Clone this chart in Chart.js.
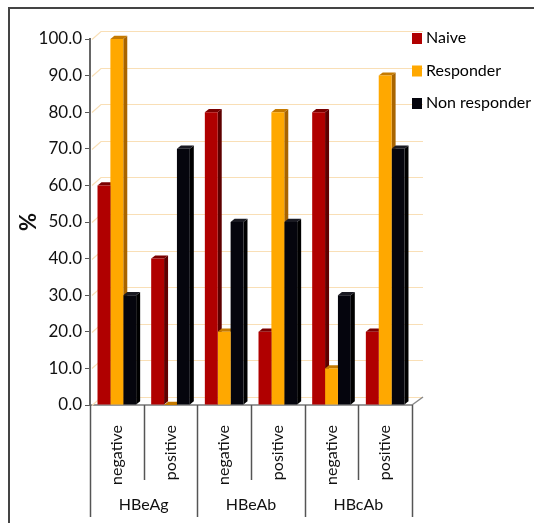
<!DOCTYPE html>
<html>
<head>
<meta charset="utf-8">
<script src="https://cdn.jsdelivr.net/npm/chart.js@4.4.0/dist/chart.umd.min.js"></script>
<style>
  html, body { margin: 0; padding: 0; background: #fff; }
  #wrap { width: 534px; height: 523px; position: relative; }
</style>
</head>
<body>
<div id="wrap"><canvas id="myChart"></canvas></div>
<script>
// marker status per column, and the marker each pair of columns belongs to
const markers = ['negative', 'positive', 'negative', 'positive', 'negative', 'positive'];
const groups = ['HBeAg', 'HBeAb', 'HBcAb'];

const naive = [60, 40, 80, 20, 80, 20];
const responder = [100, 0, 20, 80, 10, 90];
const nonResponder = [30, 70, 50, 50, 30, 70];

const yTickLabels = ['0.0', '10.0', '20.0', '30.0', '40.0', '50.0', '60.0', '70.0', '80.0', '90.0', '100.0'];

const FONT = 'Lato, "Open Sans", sans-serif';
const depth = 4;
const wallX = 11, wallY = 8;

// back-wall gridlines: short diagonal along the side wall, then across
const backWall = {
  id: 'backWall',
  beforeDatasetsDraw(chart) {
    const ctx = chart.ctx;
    const ys = chart.scales.y;
    const { left, right } = chart.chartArea;
    ctx.save();
    ctx.strokeStyle = '#f9dfb6';
    ctx.lineWidth = 1.2;
    ys.ticks.forEach(t => {
      const y = Math.round(ys.getPixelForValue(t.value)) + 0.5;
      ctx.beginPath();
      ctx.moveTo(left + 2, y);
      ctx.lineTo(left + wallX, y - wallY);
      ctx.lineTo(right + wallX, y - wallY);
      ctx.stroke();
    });
    ctx.restore();
  }
};

// side and top faces of the columns, painted before the fronts so the
// next column in a cluster hides what lies behind it
const bars3d = {
  id: 'bars3d',
  beforeDatasetsDraw(chart) {
    const ctx = chart.ctx;
    ctx.save();
    chart.data.datasets.forEach((ds, i) => {
      chart.getDatasetMeta(i).data.forEach(bar => {
        const l = bar.x - bar.width / 2, r = bar.x + bar.width / 2;
        const dy = depth * 0.8;
        ctx.fillStyle = ds.sideColor;
        ctx.beginPath();
        ctx.moveTo(r, bar.y);
        ctx.lineTo(r + depth, bar.y - dy);
        ctx.lineTo(r + depth, bar.base - dy);
        ctx.lineTo(r, bar.base);
        ctx.closePath();
        ctx.fill();
        ctx.fillStyle = ds.topColor;
        ctx.beginPath();
        ctx.moveTo(l, bar.y);
        ctx.lineTo(l + depth, bar.y - dy);
        ctx.lineTo(r + depth, bar.y - dy);
        ctx.lineTo(r, bar.y);
        ctx.closePath();
        ctx.fill();
      });
    });
    ctx.restore();
  }
};

// frame, two-level category axis and legend
const decorations = {
  id: 'decorations',
  afterDraw(chart) {
    const ctx = chart.ctx;
    const xs = chart.scales.x;
    const bottom = chart.chartArea.bottom;
    ctx.save();

    ctx.strokeStyle = '#444';
    ctx.lineWidth = 2;
    ctx.beginPath();
    ctx.moveTo(9, 523);
    ctx.lineTo(9, 8);
    ctx.lineTo(534, 8);
    ctx.stroke();

    // floor edge
    ctx.strokeStyle = '#888';
    ctx.lineWidth = 1.5;
    ctx.beginPath();
    ctx.moveTo(xs.right, bottom);
    ctx.lineTo(xs.right + wallX, bottom - wallY);
    ctx.stroke();

    ctx.strokeStyle = '#555';
    ctx.lineWidth = 1.5;
    for (let i = 0; i <= markers.length; i++) {
      const x = Math.round(xs.getPixelForValue(i - 0.5)) + 0.5;
      const end = i % 2 === 0 ? 517 : 480;
      ctx.beginPath();
      ctx.moveTo(x, bottom);
      ctx.lineTo(x, end);
      ctx.stroke();
    }

    ctx.fillStyle = '#111';
    ctx.font = '16px ' + FONT;
    ctx.textAlign = 'center';
    ctx.textBaseline = 'middle';
    groups.forEach((g, i) => {
      const x = xs.getPixelForValue(2 * i + 0.5);
      ctx.fillText(g, x, 505);
    });

    ctx.textAlign = 'left';
    ctx.font = '16px ' + FONT;
    chart.data.datasets.forEach((ds, i) => {
      const y = 38 + i * 32.5;
      ctx.fillStyle = ds.backgroundColor;
      ctx.fillRect(412, y - 5, 10, 11);
      ctx.fillStyle = '#000';
      ctx.fillText(ds.label, 426, y);
    });
    ctx.restore();
  }
};

new Chart(document.getElementById('myChart'), {
  type: 'bar',
  data: {
    labels: markers,
    datasets: [
      { label: 'Naive', data: naive, backgroundColor: '#b00000', sideColor: '#5e0000', topColor: '#7a0000' },
      { label: 'Responder', data: responder, backgroundColor: '#ffa800', sideColor: '#a86400', topColor: '#c57a00' },
      { label: 'Non responder', data: nonResponder, backgroundColor: '#05050d', sideColor: '#000000', topColor: '#1a1a22' }
    ]
  },
  options: {
    responsive: true,
    maintainAspectRatio: false,
    animation: false,
    layout: { padding: { left: 14, top: 39, right: 122, bottom: 0 } },
    datasets: { bar: { categoryPercentage: 0.72, barPercentage: 1.0 } },
    plugins: { legend: { display: false }, tooltip: { enabled: false } },
    scales: {
      x: {
        grid: { display: false },
        border: { color: '#999', width: 2 },
        ticks: {
          autoSkip: false, minRotation: 90, maxRotation: 90, padding: 12,
          color: '#111', font: { family: FONT, size: 16 }
        },
        afterFit: s => { s.height = 118; }
      },
      y: {
        min: 0, max: 100,
        grid: { drawOnChartArea: false, tickColor: '#555', tickLength: 5 },
        border: { color: '#666', width: 2 },
        ticks: {
          stepSize: 10, padding: 3, color: '#111',
          font: { family: FONT, size: 17 },
          callback: (v) => yTickLabels[v / 10]
        },
        title: { display: true, text: '%', color: '#111', padding: { top: 2, bottom: 4 }, font: { family: FONT, size: 22, weight: 'bold' } },
        afterFit: s => { s.width = 76; }
      }
    }
  },
  plugins: [backWall, bars3d, decorations]
});
</script>
</body>
</html>
